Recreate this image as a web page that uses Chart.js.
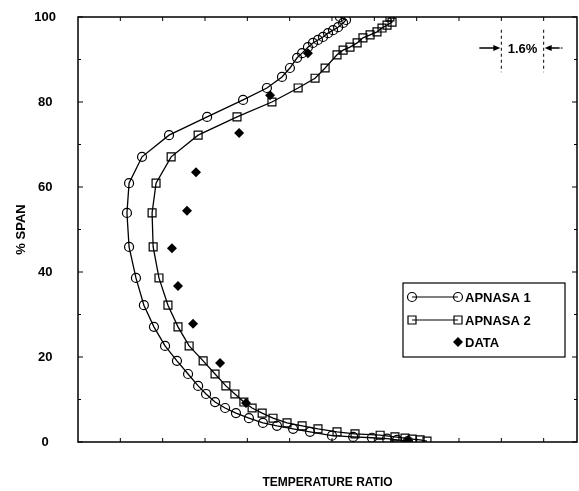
<!DOCTYPE html>
<html>
<head>
<meta charset="utf-8">
<script src="https://cdn.jsdelivr.net/npm/chart.js@4.4.1/dist/chart.umd.min.js"></script>
<style>
  html, body { margin: 0; padding: 0; background: #fff; }
  #wrap { width: 579px; height: 491px; }
</style>
</head>
<body>
<div id="wrap"><canvas id="chart"></canvas></div>
<script>
// APNASA 1 (circles), from hub up to tip
const apnasa1X = [1.1247, 1.1206, 1.1168, 1.1111, 1.1040, 1.0960, 1.0877, 1.0813, 1.0752, 1.0699,
  1.0646, 1.0597, 1.0556, 1.0518, 1.0484, 1.0454, 1.0416, 1.0374, 1.0329, 1.0287,
  1.0249, 1.0219, 1.0193, 1.0185, 1.0193, 1.0242, 1.0344, 1.0488, 1.0624, 1.0714,
  1.0771, 1.0801, 1.0828, 1.0847, 1.0869, 1.0888, 1.0907, 1.0926, 1.0945, 1.0964,
  1.0983, 1.1002, 1.1013, 1.0990];
const apnasa1Y = [0.2, 0.5, 0.8, 1.0, 1.2, 1.5, 2.4, 3.1, 3.8, 4.5,
  5.6, 6.8, 8.0, 9.4, 11.3, 13.2, 16.0, 19.1, 22.6, 27.1,
  32.2, 38.6, 45.9, 53.9, 60.9, 67.1, 72.2, 76.5, 80.5, 83.3,
  85.9, 88.0, 90.4, 91.5, 92.9, 93.9, 94.6, 95.3, 96.2, 96.9,
  97.6, 98.6, 99.3, 100];

// APNASA 2 (squares)
const apnasa2X = [1.1319, 1.1293, 1.1263, 1.1236, 1.1198, 1.1142, 1.1047, 1.0979, 1.0907, 1.0847,
  1.0790, 1.0737, 1.0696, 1.0658, 1.0627, 1.0593, 1.0559, 1.0518, 1.0473, 1.0420,
  1.0378, 1.0340, 1.0306, 1.0284, 1.0280, 1.0295, 1.0352, 1.0454, 1.0601, 1.0733,
  1.0832, 1.0896, 1.0934, 1.0979, 1.1002, 1.1028, 1.1055, 1.1077, 1.1104, 1.1130,
  1.1149, 1.1168, 1.1187, 1.1179];
const apnasa2Y = [0.2, 0.5, 0.7, 0.9, 1.2, 1.6, 1.9, 2.4, 3.1, 3.8,
  4.5, 5.6, 6.8, 8.0, 9.4, 11.3, 13.2, 16.0, 19.1, 22.6,
  27.1, 32.2, 38.6, 45.9, 53.9, 60.9, 67.1, 72.2, 76.5, 80.0,
  83.3, 85.6, 88.0, 91.1, 92.2, 92.9, 93.9, 95.1, 95.8, 96.5,
  97.4, 98.1, 98.8, 100];

// measured data (diamonds)
const datiX = [1.1247, 1.0635, 1.0537, 1.0435, 1.0378, 1.0355, 1.0412, 1.0446, 1.0609, 1.0726, 1.0869];
const datiY = [0.3, 9.2, 18.6, 27.8, 36.7, 45.6, 54.4, 63.5, 72.7, 81.6, 91.5];

const etichette = ["APNASA 1", "APNASA 2", "DATA"];

// axes
const xMin = 1.0, xMax = 1.1886, xPasso = 0.016;
const yTicks = [0, 20, 40, 60, 80, 100];

// scale bar "1.6%" (in data units)
const barraX = [1.160, 1.176];
const barraY = [87, 97];
const barraFrecciaY = 92.7;
const barraTesto = "1.6%";

const FONT = "'Liberation Sans', Arial, Helvetica, sans-serif";

// big markers would otherwise push the plot area in from the right edge
Chart.registry.getController("line").prototype.getMaxOverflow = function () { return 0; };

function punti(xs, ys) {
  return xs.map((x, i) => ({ x: x, y: ys[i] }));
}

function disegnaMarker(ctx, tipo, x, y) {
  ctx.beginPath();
  if (tipo === "circle") {
    ctx.arc(x, y, 4.5, 0, Math.PI * 2);
    ctx.stroke();
  } else if (tipo === "rect") {
    ctx.rect(x - 4, y - 4, 8, 8);
    ctx.stroke();
  } else {
    ctx.moveTo(x, y - 5); ctx.lineTo(x + 5, y); ctx.lineTo(x, y + 5); ctx.lineTo(x - 5, y);
    ctx.closePath();
    ctx.fill();
  }
}

// no extra padding around the plot area, the layout below sets it
function senzaPadding(s) {
  s.paddingTop = 0; s.paddingBottom = 0; s.paddingLeft = 0; s.paddingRight = 0;
}

// box, inward ticks and the 1.6% bar
const cornice = {
  id: "cornice",
  afterDraw(chart) {
    const { ctx, chartArea: a, scales } = chart;
    const sx = scales.x, sy = scales.y;
    ctx.save();
    ctx.strokeStyle = "#000";
    ctx.fillStyle = "#000";
    ctx.lineWidth = 1.5;
    ctx.strokeRect(a.left, a.top, a.right - a.left, a.bottom - a.top);

    ctx.lineWidth = 1;
    ctx.beginPath();
    for (let v = 0; v <= 100; v += 10) {
      const py = sy.getPixelForValue(v);
      const len = v % 20 === 0 ? 5 : 3;
      ctx.moveTo(a.left, py); ctx.lineTo(a.left + len, py);
      ctx.moveTo(a.right, py); ctx.lineTo(a.right - len, py);
    }
    for (let k = 1; xMin + k * xPasso < xMax; k++) {
      const px = sx.getPixelForValue(xMin + k * xPasso);
      ctx.moveTo(px, a.top); ctx.lineTo(px, a.top + 4);
      ctx.moveTo(px, a.bottom); ctx.lineTo(px, a.bottom - 4);
    }
    ctx.stroke();

    // dashed guides
    ctx.setLineDash([3, 3]);
    ctx.beginPath();
    barraX.forEach(v => {
      const px = sx.getPixelForValue(v);
      ctx.moveTo(px, sy.getPixelForValue(barraY[1]));
      ctx.lineTo(px, sy.getPixelForValue(barraY[0]));
    });
    ctx.stroke();
    ctx.setLineDash([]);

    // arrows
    const py = sy.getPixelForValue(barraFrecciaY);
    const x1 = sx.getPixelForValue(barraX[0]);
    const x2 = sx.getPixelForValue(barraX[1]);
    ctx.lineWidth = 1.5;
    ctx.beginPath();
    ctx.moveTo(x1 - 22, py); ctx.lineTo(x1 - 6, py);
    ctx.moveTo(x2 + 16, py); ctx.lineTo(x2 + 6, py);
    ctx.stroke();
    ctx.beginPath();
    ctx.moveTo(x1 - 1, py); ctx.lineTo(x1 - 8, py - 3); ctx.lineTo(x1 - 8, py + 3); ctx.closePath();
    ctx.moveTo(x2 + 1, py); ctx.lineTo(x2 + 8, py - 3); ctx.lineTo(x2 + 8, py + 3); ctx.closePath();
    ctx.fill();
    ctx.setLineDash([2, 3]);
    ctx.lineWidth = 1;
    ctx.beginPath();
    ctx.moveTo(x2 + 17, py); ctx.lineTo(x2 + 22, py);
    ctx.stroke();
    ctx.setLineDash([]);

    ctx.font = "bold 13px " + FONT;
    ctx.textAlign = "center";
    ctx.textBaseline = "middle";
    ctx.fillText(barraTesto, (x1 + x2) / 2, py + 1);
    ctx.restore();
  }
};

// legend drawn inside the plot area
const legendaInterna = {
  id: "legendaInterna",
  afterDraw(chart) {
    const { ctx, chartArea: a } = chart;
    const left = a.right - 174, top = a.top + 266, w = 162, h = 74;
    ctx.save();
    ctx.strokeStyle = "#000";
    ctx.fillStyle = "#000";
    ctx.lineWidth = 1.2;
    ctx.strokeRect(left, top, w, h);

    ctx.font = "bold 13px " + FONT;
    ctx.textAlign = "left";
    ctx.textBaseline = "middle";
    const tipi = ["circle", "rect", "rectRot"];
    const righe = [top + 14, top + 37, top + 59];
    etichette.forEach((lab, i) => {
      const yy = righe[i];
      if (i < 2) {
        ctx.lineWidth = 1.2;
        ctx.beginPath();
        ctx.moveTo(left + 9, yy); ctx.lineTo(left + 55, yy);
        ctx.stroke();
        disegnaMarker(ctx, tipi[i], left + 9, yy);
        disegnaMarker(ctx, tipi[i], left + 55, yy);
      } else {
        disegnaMarker(ctx, tipi[i], left + 55, yy);
      }
      ctx.fillText(lab, left + 62, yy + 1);
    });
    ctx.restore();
  }
};

new Chart(document.getElementById("chart"), {
  type: "line",
  data: {
    datasets: [
      {
        label: etichette[0],
        data: punti(apnasa1X, apnasa1Y),
        borderColor: "#000",
        borderWidth: 1.3,
        backgroundColor: "rgba(0,0,0,0)",
        pointStyle: "circle",
        pointRadius: 4.5,
        pointBorderWidth: 1.2,
        pointBorderColor: "#000",
        pointBackgroundColor: "rgba(0,0,0,0)",
        tension: 0
      },
      {
        label: etichette[1],
        data: punti(apnasa2X, apnasa2Y),
        borderColor: "#000",
        borderWidth: 1.3,
        backgroundColor: "rgba(0,0,0,0)",
        pointStyle: "rect",
        pointRadius: 5.6,
        pointBorderWidth: 1.2,
        pointBorderColor: "#000",
        pointBackgroundColor: "rgba(0,0,0,0)",
        tension: 0
      },
      {
        label: etichette[2],
        data: punti(datiX, datiY),
        showLine: false,
        pointStyle: "rectRot",
        pointRadius: 5,
        pointBorderWidth: 0,
        pointBackgroundColor: "#000",
        pointBorderColor: "#000"
      }
    ]
  },
  options: {
    responsive: true,
    maintainAspectRatio: false,
    animation: false,
    layout: { padding: { top: 17, right: 2, left: 0, bottom: 0 } },
    plugins: {
      legend: { display: false },
      tooltip: { enabled: false }
    },
    scales: {
      x: {
        type: "linear",
        min: xMin,
        max: xMax,
        grid: { display: false },
        border: { display: false },
        ticks: { display: false },
        title: {
          display: true,
          text: "TEMPERATURE RATIO",
          color: "#000",
          font: { family: FONT, size: 12, weight: "bold" },
          padding: { top: 32, bottom: 1 }
        },
        afterFit: s => { s.height = 49; senzaPadding(s); }
      },
      y: {
        type: "linear",
        min: 0,
        max: 100,
        grid: { display: false },
        border: { display: false },
        afterBuildTicks: s => { s.ticks = yTicks.map(v => ({ value: v })); },
        ticks: {
          color: "#000",
          font: { family: FONT, size: 13, weight: "bold" },
          crossAlign: "center",
          padding: 14
        },
        title: {
          display: true,
          text: "% SPAN",
          color: "#000",
          font: { family: FONT, size: 13, weight: "bold" },
          padding: { top: 14, bottom: 0 }
        },
        afterFit: s => { s.width = 78; senzaPadding(s); }
      }
    }
  },
  plugins: [cornice, legendaInterna]
});
</script>
</body>
</html>
